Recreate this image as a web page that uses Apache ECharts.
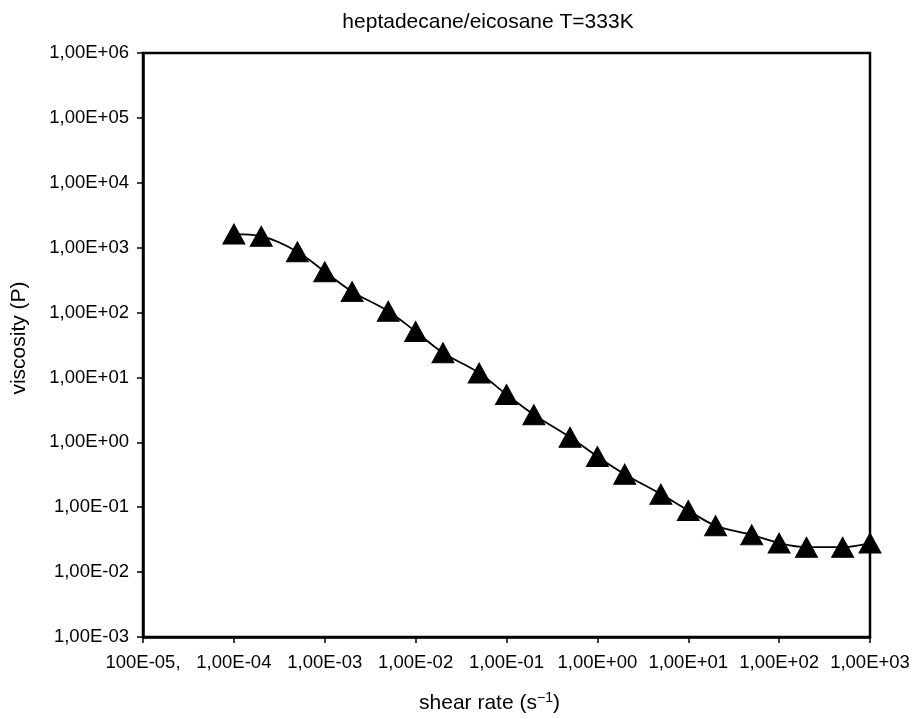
<!DOCTYPE html>
<html>
<head>
<meta charset="utf-8">
<script src="https://cdn.jsdelivr.net/npm/echarts@6/dist/echarts.min.js"></script>
<style>
html,body{margin:0;padding:0;background:#fff;}
#chart{width:919px;height:719px;}
</style>
</head>
<body>
<div id="chart"></div>
<script>
var shearRate = [1e-4, 2e-4, 5e-4, 1e-3, 2e-3, 5e-3, 1e-2, 2e-2, 5e-2, 1e-1, 2e-1, 5e-1, 1, 2, 5, 10, 20, 50, 100, 200, 500, 1000];
var viscosity = [1620, 1500, 865, 425, 210, 105, 51, 24, 11.7, 5.45, 2.67, 1.2, 0.605, 0.323, 0.159, 0.089, 0.052, 0.0375, 0.028, 0.0242, 0.0242, 0.028];
var xTickLabels = ['100E-05,', '1,00E-04', '1,00E-03', '1,00E-02', '1,00E-01', '1,00E+00', '1,00E+01', '1,00E+02', '1,00E+03'];
var yTickLabels = ['1,00E-03', '1,00E-02', '1,00E-01', '1,00E+00', '1,00E+01', '1,00E+02', '1,00E+03', '1,00E+04', '1,00E+05', '1,00E+06'];
var titleText = 'heptadecane/eicosane T=333K';

var FONT = '"Liberation Sans", Arial, sans-serif';
var chart = echarts.init(document.getElementById('chart'), null, {renderer: 'canvas'});
var data = shearRate.map(function (x, i) { return [x, viscosity[i]]; });

chart.setOption({
  backgroundColor: '#ffffff',
  animation: false,
  title: {
    text: titleText,
    left: 483,
    top: 7,
    textAlign: 'center',
    textStyle: {fontFamily: FONT, fontSize: 21, fontWeight: 'normal', color: '#000'}
  },
  grid: {
    left: 143, right: 49, top: 53, bottom: 82,
    show: true, borderColor: '#000', borderWidth: 2.5, backgroundColor: 'transparent'
  },
  xAxis: {
    type: 'log', logBase: 10, min: 1e-5, max: 1e3, splitNumber: 8,
    name: 'shear rate (s{sup|−1})',
    nameLocation: 'middle', nameGap: 54,
    nameTextStyle: {
      fontFamily: FONT, fontSize: 21, color: '#000', padding: [0, 34, 0, 0],
      rich: {sup: {fontFamily: FONT, fontSize: 14, color: '#000', padding: [0, 0, 10, 0]}}
    },
    axisLine: {show: true, lineStyle: {color: '#000', width: 2.5}},
    axisTick: {show: true, inside: false, length: 6, lineStyle: {color: '#000', width: 1.5}},
    splitLine: {show: false},
    axisLabel: {
      fontFamily: FONT, fontSize: 18.5, color: '#000', margin: 16,
      formatter: function (v) {
        var i = Math.round(Math.log10(v)) + 5;
        return xTickLabels[i] !== undefined ? xTickLabels[i] : '';
      }
    }
  },
  yAxis: {
    type: 'log', logBase: 10, min: 1e-3, max: 1e6, splitNumber: 9,
    name: 'viscosity (P)',
    nameLocation: 'middle', nameGap: 113,
    nameTextStyle: {fontFamily: FONT, fontSize: 21, color: '#000', padding: [0, 0, 0, 14]},
    axisLine: {show: true, lineStyle: {color: '#000', width: 2.5}},
    axisTick: {show: true, inside: false, length: 6, lineStyle: {color: '#000', width: 1.5}},
    splitLine: {show: false},
    axisLabel: {
      fontFamily: FONT, fontSize: 18.5, color: '#000', margin: 14,
      formatter: function (v) {
        var i = Math.round(Math.log10(v)) + 3;
        return yTickLabels[i] !== undefined ? yTickLabels[i] : '';
      }
    }
  },
  series: [{
    type: 'line',
    data: data,
    smooth: 0.35,
    clip: false,
    symbol: 'triangle',
    symbolSize: [22, 20],
    showSymbol: true,
    itemStyle: {color: '#000', borderColor: '#000'},
    lineStyle: {color: '#000', width: 1.8},
    z: 5
  }]
});
</script>
</body>
</html>
